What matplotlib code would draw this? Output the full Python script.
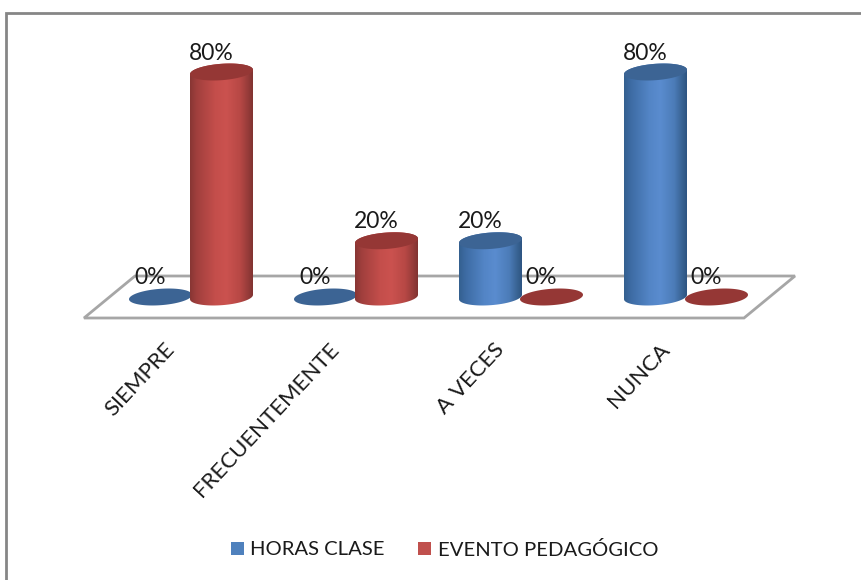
""" Cylinder column chart, horas clase vs evento pedagogico"""
import numpy as np
import matplotlib
matplotlib.use('Agg')
import matplotlib.pyplot as plt
from matplotlib.colors import LinearSegmentedColormap
from matplotlib.patches import PathPatch, Polygon, Rectangle
from matplotlib.path import Path

categories = ['SIEMPRE', 'FRECUENTEMENTE', 'A VECES', 'NUNCA']
horas_clase = [0, 0, 20, 80]
evento_pedagogico = [80, 20, 0, 0]
series_names = ['HORAS CLASE', 'EVENTO PEDAGÓGICO']

plt.rcParams['font.family'] = ['Lato', 'DejaVu Sans']

W, H = 861, 580
# one category = 165 px, one percent = 2.8125 px
XU, YU = 165.0, 2.8125
X0, Y0 = 191.0, 297.0   # pixel of category 0 / value 0

fig = plt.figure(figsize=(W / 100, H / 100), dpi=100)
ax = fig.add_axes([0, 0, 1, 1])
xlim = (-X0 / XU, (W - X0) / XU)
ylim = ((Y0 - H) / YU, Y0 / YU)
ax.axis('off')

OFFSET = 30.5 / XU
A = 31.5 / XU     # half width
B = 8.2 / YU      # half height of the ellipse
S = 2.2 / YU      # tilt of the ellipse

blue_map = LinearSegmentedColormap.from_list(
    'b', [(0, '#34608f'), (0.1, '#3d6ba3'), (0.4, '#5385c6'), (0.58, '#5a8ccf'),
          (0.8, '#4c7cb8'), (0.93, '#386393'), (1, '#2e5582')])
red_map = LinearSegmentedColormap.from_list(
    'r', [(0, '#873634'), (0.1, '#a03f3d'), (0.4, '#c44e4b'), (0.58, '#cb524f'),
          (0.8, '#b74845'), (0.93, '#953b39'), (1, '#813331')])
grad = np.linspace(0, 1, 128).reshape(1, -1)


def ellipse_xy(cx, cy, t):
    return cx + A * np.cos(t), cy + B * np.sin(t) + S * np.cos(t)


def cylinder(cx, value, cmap, top_color, zorder):
    t = np.linspace(0, 2 * np.pi, 120)
    if value > 0:
        # body: lower half of base ellipse, then back along the top one
        tb = np.linspace(np.pi, 2 * np.pi, 60)
        xb, yb = ellipse_xy(cx, 0, tb)
        tt = np.linspace(0, np.pi, 60)
        xt, yt = ellipse_xy(cx, value, tt)
        verts = np.column_stack([np.r_[xb, xt], np.r_[yb, yt]])
        im = ax.imshow(grad, cmap=cmap, aspect='auto', zorder=zorder,
                       extent=(cx - A, cx + A, -B - S, value + B + S))
        im.set_clip_path(PathPatch(Path(verts), transform=ax.transData))
    x, y = ellipse_xy(cx, value, t)
    ax.fill(x, y, color=top_color, lw=0, zorder=zorder + 0.1)


# chart frame, only top and left are visible
ax.plot([W / XU + xlim[0], 6 / XU + xlim[0], 6 / XU + xlim[0]],
        [ylim[1] - 13 / YU, ylim[1] - 13 / YU, ylim[0]],
        color='#868686', lw=2, solid_joinstyle='miter', zorder=1)

# floor
floor = [((135 - X0) / XU, (Y0 - 276) / YU), ((795 - X0) / XU, (Y0 - 276) / YU),
         ((744 - X0) / XU, (Y0 - 318) / YU), ((84 - X0) / XU, (Y0 - 318) / YU)]
ax.add_patch(Polygon(floor, closed=True, fill=False, ec='#a6a6a6', lw=2, zorder=2))

for i, cat in enumerate(categories):
    for vals, side, cmap, top in ((horas_clase, -1, blue_map, '#3c6494'),
                                  (evento_pedagogico, 1, red_map, '#953735')):
        v = vals[i]
        cx = i + side * OFFSET
        cylinder(cx, v, cmap, top, 3 + v / 100)
        ax.text(cx - 10 / XU, v + 19 / YU, f'{v}%', ha='center', va='center',
                fontsize=16.5, color='#1a1a1a', zorder=6)
    ax.text(i - 20 / XU, (Y0 - 346) / YU, cat, rotation=47, rotation_mode='anchor',
            ha='right', va='center', fontsize=16, color='#1a1a1a', zorder=6)

# legend
leg_y = (Y0 - 548) / YU
for lx, tx, col, name in ((231, 250, '#4f81bd', series_names[0]),
                          (418, 438, '#c0504d', series_names[1])):
    ax.add_patch(Rectangle(((lx - X0) / XU, leg_y - 6.5 / YU), 13 / XU, 13 / YU,
                           fc=col, ec='none', zorder=5))
    ax.text((tx - X0) / XU, leg_y, name, ha='left', va='center_baseline',
            fontsize=14.6, color='#1a1a1a')

ax.set_xlim(xlim)
ax.set_ylim(ylim)
fig.savefig('out.png', dpi=100, facecolor='white')
